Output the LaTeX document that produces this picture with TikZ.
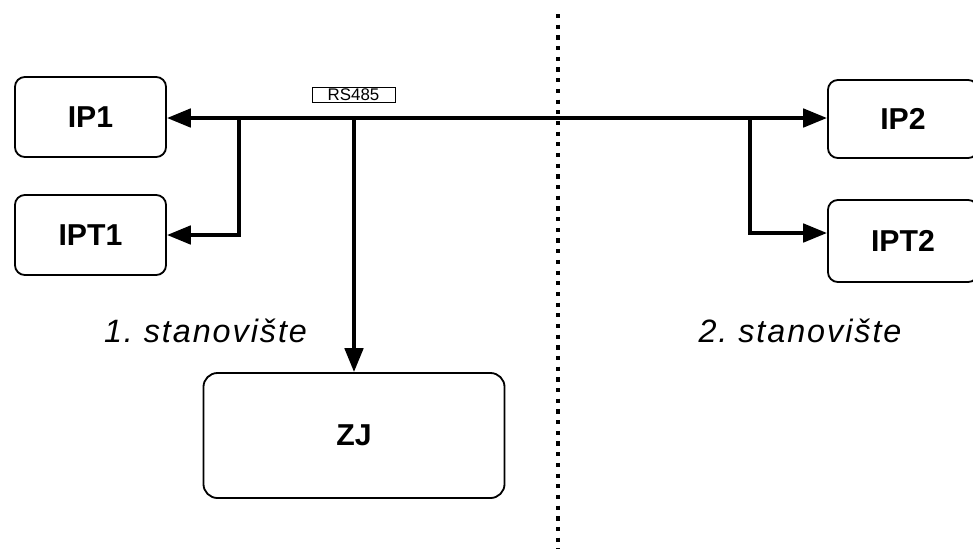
\documentclass[tikz,border=0pt]{standalone}
\usepackage{fontspec}
\setmainfont{Liberation Sans}
\usetikzlibrary{arrows.meta}

\begin{document}
\begin{tikzpicture}[x=0.025cm, y=-0.025cm,
  unit/.style={draw, line width=1.3pt, rounded corners=7pt, font=\fontsize{21.5}{24}\selectfont\bfseries},
  bus/.style={line width=2.8pt, -{Triangle[length=17pt, width=13pt]}},
  place/.style={font=\fontsize{23}{26}\selectfont\itshape\addfontfeatures{LetterSpace=6}}]
  \useasboundingbox (0,0) rectangle (973,549);
  \node[unit, minimum width=3.775cm, minimum height=2cm] (IP1) at (90.5,117) {IP1};
  \node[unit, minimum width=3.775cm, minimum height=2cm] (IPT1) at (90.5,235) {IPT1};
  \node[unit, minimum width=3.75cm, minimum height=1.95cm] (IP2) at (903,119) {IP2};
  \node[unit, minimum width=3.75cm, minimum height=2.05cm] (IPT2) at (903,241) {IPT2};
  \node[unit, minimum width=7.525cm, minimum height=3.125cm, rounded corners=10pt] (ZJ) at (354,435.5) {ZJ};
  \node[draw, line width=0.6pt, minimum width=2.075cm, minimum height=0.375cm, inner sep=0pt, font=\fontsize{12}{13}\selectfont] (rs) at (353.5,94.5) {RS485};
  \node[place] (st1) at (205.5,331) {1.\ stanovište};
  \node[place] (st2) at (800,331) {2.\ stanovište};
  % Draw the bus and its branches
  \coordinate (b1) at (238,118);
  \coordinate (b2) at (751,118);
  \coordinate (bz) at (354,118);
  \draw[bus, {Triangle[length=17pt, width=13pt]}-{Triangle[length=17pt, width=13pt]}] (IP1.east |- b1) -- (IP2.west |- b2);
  \draw[bus] ([xshift=0.7pt]b1) |- (IPT1.east);
  \draw[bus] ([xshift=-0.7pt]b2) |- ([yshift=0.2cm]IPT2.west);
  \draw[bus] (bz) -- (ZJ.north);
  % Border between the two sites
  \coordinate (top) at (558,14);
  \coordinate (bot) at (558,549);
  \draw[line width=2.4pt, dash pattern=on 3pt off 4.6pt] (top) -- (bot);
\end{tikzpicture}
\end{document}
